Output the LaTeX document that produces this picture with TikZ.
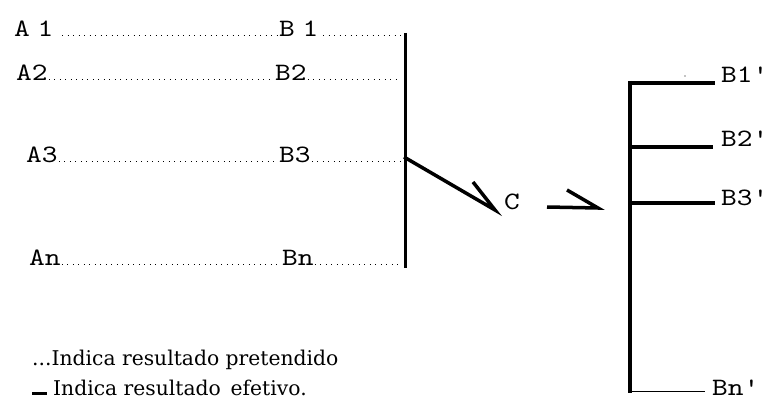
\documentclass[tikz,border=0pt]{standalone}
\usepackage{fontspec}
\setmainfont{DejaVu Serif}
\newfontfamily\labfont[FakeStretch=1.2]{lmmono10-regular.otf}
\usetikzlibrary{calc}
\begin{document}
\begin{tikzpicture}[x=1pt,y=-1pt,
  lab/.style={anchor=base west,inner sep=0pt,font=\labfont\fontsize{25}{25}\selectfont},
  leg/.style={anchor=base west,inner sep=0pt,font=\fontsize{20.3}{20.3}\selectfont},
  dots/.style={line width=1pt,dash pattern=on 1pt off 4.5pt},
  thickl/.style={line width=3.5pt},
  mid/.style={line width=3pt}]
\useasboundingbox (0,0) rectangle (769,401);
% left labels
\node[lab] (A1) at (14,37) {A\hspace{-8pt} 1};
\node[lab] (B1) at (279,37) {B\hspace{-8pt} 1};
\node[lab] (A2) at (16,81) {A2};
\node[lab] (B2) at (275,81) {B2};
\node[lab] (A3) at (26,163) {A3};
\node[lab] (B3) at (279,163) {B3};
\node[lab] (An) at (29,265) {An};
\node[lab] (Bn) at (282,265) {Bn};
% left vertical bar
\coordinate (Ltop) at (405,33);
\coordinate (Lbot) at (405,268);
\draw[mid] (Ltop) -- (Lbot);
\coordinate (E1) at (401,36);
\coordinate (E2) at (399,80);
\coordinate (E3) at (401,162);
\coordinate (E4) at (401,264);
% dotted lines
\draw[dots] (62,36) -- ($(B1.base west)+(-2,-1)$);
\draw[dots] (323,36) -- (E1);
\draw[dots] ($(A2.base east)+(1,-1)$) -- ($(B2.base west)+(-2,-1)$);
\draw[dots] ($(B2.base east)+(1,-1)$) -- (E2);
\draw[dots] ($(A3.base east)+(1,-1)$) -- ($(B3.base west)+(-2,-1)$);
\draw[dots] ($(B3.base east)+(1,-1)$) -- (E3);
\draw[dots] ($(An.base east)+(1,-1)$) -- ($(Bn.base west)+(-2,-1)$);
\draw[dots] ($(Bn.base east)+(1,-1)$) -- (E4);
% diagonal arrow to C
\coordinate (D0) at (404,157);
\coordinate (D1) at (495,210);
\coordinate (D2) at (473,182);
\draw[thickl] (D0) -- (D1) -- (D2);
\node[lab] (C) at (504,210) {C};
% second arrow
\coordinate (H0) at (547,207);
\coordinate (H1) at (598,208);
\coordinate (H2) at (567,190);
\draw[thickl] (H0) -- (H1) -- (H2);
% right structure
\coordinate (Rtop) at (630,81);
\coordinate (Rbot) at (630,393);
\draw[line width=4pt] (Rtop) -- (Rbot);
\coordinate (R1) at (715,83);
\coordinate (R2) at (713,147);
\coordinate (R3) at (715,203);
\coordinate (R4) at (705,391.5);
\draw[thickl] (630,83) -- (R1);
\draw[thickl] (630,147) -- (R2);
\draw[thickl] (628,203) -- (R3);
\draw[line width=1pt] (632,391.5) -- (R4);
\fill (685,76) circle (0.6);
\node[lab] (B1p) at (721,83) {B1'};
\node[lab] (B2p) at (721,147) {B2'};
\node[lab] (B3p) at (721,205) {B3'};
\node[lab] (Bnp) at (712,395) {Bn'};
% legend
\node[leg] (L1) at (32,365) {...Indica resultado pretendido};
\coordinate (K0) at (32,393);
\coordinate (K1) at (47,393);
\draw[line width=3pt] (K0) -- (K1);
\node[leg] (L2) at (53,395) {Indica resultado\, efetivo.};
\end{tikzpicture}
\end{document}
